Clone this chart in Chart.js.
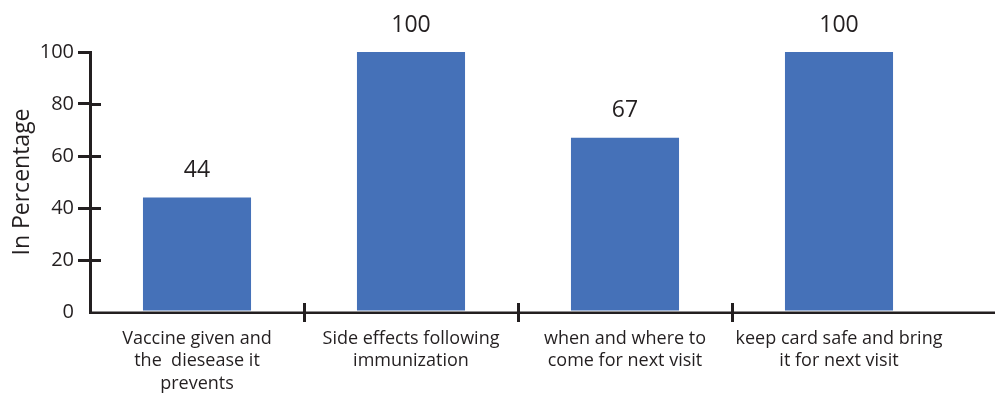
<!DOCTYPE html>
<html><head><meta charset="utf-8">
<script src="https://cdn.jsdelivr.net/npm/chart.js@4"></script>
<style>html,body{margin:0;padding:0;background:#fff}canvas{display:block}</style>
</head><body>
<canvas id="c" width="997" height="394"></canvas>
<script>
const categories = [
  ['Vaccine given and', 'the  diesease it', 'prevents'],
  ['Side effects following', 'immunization'],
  ['when and where to', 'come for next visit'],
  ['keep card safe and bring', 'it for next visit']
];
const percentages = [44, 100, 67, 100];
const yTicks = [0, 20, 40, 60, 80, 100];

const INK = '#231f20';
const FONT = "'Open Sans', sans-serif";

// value printed above each bar
const valueLabels = {
  id: 'valueLabels',
  afterDatasetsDraw(chart) {
    const ctx = chart.ctx;
    const meta = chart.getDatasetMeta(0);
    ctx.save();
    ctx.fillStyle = INK;
    ctx.font = '23px ' + FONT;
    ctx.textAlign = 'center';
    ctx.textBaseline = 'middle';
    meta.data.forEach((bar, i) => {
      ctx.fillText(String(percentages[i]), bar.x, bar.y - 27);
    });
    ctx.restore();
  }
};

// tick marks that cross the axes, and the baseline running on to the edge
const axisMarks = {
  id: 'axisMarks',
  afterDraw(chart) {
    const {ctx, chartArea, scales: {x, y}} = chart;
    ctx.save();
    ctx.strokeStyle = INK;
    ctx.lineWidth = 3;
    ctx.beginPath();
    y.ticks.forEach(t => {
      if (t.value === 0 || t.value === 100) return;
      const py = Math.round(y.getPixelForValue(t.value)) + 0.5;
      ctx.moveTo(chartArea.left, py);
      ctx.lineTo(chartArea.left + 11, py);
    });
    for (let i = 1; i < x.ticks.length; i++) {
      const px = Math.round((x.getPixelForTick(i - 1) + x.getPixelForTick(i)) / 2) + 0.5;
      ctx.moveTo(px, chartArea.bottom);
      ctx.lineTo(px, chartArea.bottom - 9);
    }
    ctx.stroke();
    ctx.lineWidth = 2.5;
    ctx.beginPath();
    ctx.moveTo(chartArea.left, chartArea.bottom + 0.75);
    ctx.lineTo(chart.width - 2, chartArea.bottom + 0.75);
    ctx.stroke();
    ctx.restore();
  }
};

new Chart(document.getElementById('c'), {
  type: 'bar',
  data: {
    labels: categories,
    datasets: [{
      data: percentages,
      backgroundColor: '#4571b8',
      borderWidth: 0,
      barPercentage: 0.505,
      categoryPercentage: 1
    }]
  },
  options: {
    responsive: false,
    animation: false,
    devicePixelRatio: 1,
    layout: { padding: { top: 52, right: 51, left: 0, bottom: 0 } },
    plugins: { legend: { display: false }, tooltip: { enabled: false } },
    scales: {
      x: {
        offset: true,
        grid: {
          offset: true,
          drawOnChartArea: false,
          tickLength: 10,
          lineWidth: 3,
          color: c => (c.type === 'tick' && c.index > 0) ? INK : 'rgba(0,0,0,0)'
        },
        border: { display: false },
        ticks: {
          color: INK,
          font: { family: FONT, size: 18, lineHeight: 1.27 },
          padding: 5,
          maxRotation: 0,
          autoSkip: false
        },
        afterFit(s) { s.height = 82; }
      },
      y: {
        min: 0,
        max: 100,
        afterBuildTicks(s) { s.ticks = yTicks.map(v => ({ value: v })); },
        grid: {
          drawOnChartArea: false,
          tickLength: 12,
          lineWidth: 3,
          color: c => (c.tick && c.tick.value === 0) ? 'rgba(0,0,0,0)' : INK
        },
        border: { display: true, color: INK, width: 3 },
        ticks: { color: INK, font: { family: FONT, size: 20 }, padding: 4 },
        title: {
          display: true,
          text: 'In Percentage',
          color: INK,
          font: { family: FONT, size: 23 },
          padding: { top: 9, bottom: 0 }
        },
        afterFit(s) { s.width = 90; }
      }
    }
  },
  plugins: [valueLabels, axisMarks]
});
</script>
</body></html>
